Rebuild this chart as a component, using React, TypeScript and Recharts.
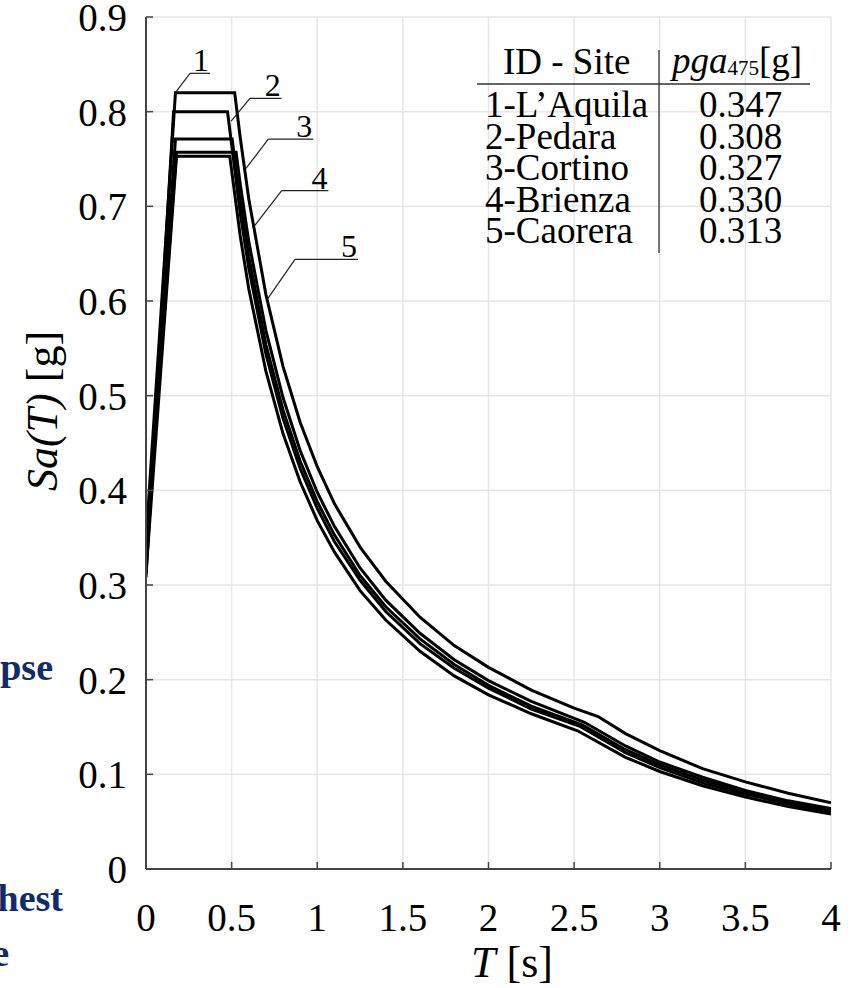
import { LineChart, Line, XAxis, YAxis, CartesianGrid, ReferenceLine } from 'recharts';

const SERIF = '"Liberation Serif", "Times New Roman", serif';
const AXIS_GREY = '#444444';

const SITE_NAMES = ['1-L\u2019Aquila', '2-Pedara', '3-Cortino', '4-Brienza', '5-Caorera'];
const PGA_475 = ['0.347', '0.308', '0.327', '0.330', '0.313'];

const X_TICKS = [0, 0.5, 1, 1.5, 2, 2.5, 3, 3.5, 4];
const Y_TICKS = [0, 0.1, 0.2, 0.3, 0.4, 0.5, 0.6, 0.7, 0.8, 0.9];

// elastic spectra, period T [s] and Sa(T) [g] per site
const T_1 = [0, 0.172, 0.518, 0.55, 0.6, 0.7, 0.8, 0.9, 1.0, 1.1, 1.25, 1.4, 1.6, 1.8, 2.0, 2.25, 2.5, 2.64, 2.8, 3.0, 3.25, 3.5, 3.75, 4.0];
const SA_1 = [0.347, 0.82, 0.82, 0.773, 0.708, 0.607, 0.531, 0.472, 0.425, 0.386, 0.34, 0.304, 0.266, 0.236, 0.213, 0.189, 0.17, 0.161, 0.143, 0.125, 0.106, 0.092, 0.08, 0.07];

const T_2 = [0, 0.161, 0.476, 0.55, 0.6, 0.7, 0.8, 0.9, 1.0, 1.1, 1.25, 1.4, 1.6, 1.8, 2.0, 2.25, 2.53, 2.8, 3.0, 3.25, 3.5, 3.75, 4.0];
const SA_2 = [0.308, 0.8, 0.8, 0.693, 0.635, 0.544, 0.476, 0.423, 0.381, 0.346, 0.305, 0.272, 0.238, 0.212, 0.191, 0.169, 0.151, 0.123, 0.107, 0.091, 0.079, 0.069, 0.06];

const T_3 = [0, 0.172, 0.503, 0.55, 0.6, 0.7, 0.8, 0.9, 1.0, 1.1, 1.25, 1.4, 1.6, 1.8, 2.0, 2.25, 2.55, 2.8, 3.0, 3.25, 3.5, 3.75, 4.0];
const SA_3 = [0.327, 0.771, 0.771, 0.705, 0.647, 0.554, 0.485, 0.431, 0.388, 0.353, 0.31, 0.277, 0.243, 0.216, 0.194, 0.172, 0.152, 0.126, 0.11, 0.094, 0.081, 0.07, 0.062];

const T_4 = [0, 0.178, 0.526, 0.55, 0.6, 0.7, 0.8, 0.9, 1.0, 1.1, 1.25, 1.4, 1.6, 1.8, 2.0, 2.25, 2.56, 2.8, 3.0, 3.25, 3.5, 3.75, 4.0];
const SA_4 = [0.33, 0.757, 0.757, 0.724, 0.663, 0.569, 0.498, 0.442, 0.398, 0.362, 0.318, 0.284, 0.249, 0.221, 0.199, 0.177, 0.155, 0.13, 0.113, 0.097, 0.083, 0.072, 0.064];

const T_5 = [0, 0.178, 0.489, 0.55, 0.6, 0.7, 0.8, 0.9, 1.0, 1.1, 1.25, 1.4, 1.6, 1.8, 2.0, 2.25, 2.52, 2.8, 3.0, 3.25, 3.5, 3.75, 4.0];
const SA_5 = [0.313, 0.753, 0.753, 0.669, 0.613, 0.526, 0.46, 0.409, 0.368, 0.335, 0.294, 0.263, 0.23, 0.204, 0.184, 0.164, 0.146, 0.118, 0.103, 0.088, 0.076, 0.066, 0.058];

// leader lines for the curve numbers: [start, knee, end] as [T, Sa]
const LEADERS: Array<{ id: string; pts: number[][] }> = [
  { id: '1', pts: [[0.175, 0.821], [0.257, 0.8405], [0.374, 0.8405]] },
  { id: '2', pts: [[0.497, 0.79], [0.607, 0.814], [0.792, 0.814]] },
  { id: '3', pts: [[0.584, 0.74], [0.714, 0.771], [0.977, 0.771]] },
  { id: '4', pts: [[0.636, 0.68], [0.792, 0.7165], [1.065, 0.7165]] },
  { id: '5', pts: [[0.705, 0.601], [0.87, 0.644], [1.238, 0.644]] },
];

const toPoints = (t: number[], sa: number[]) => t.map((T, i) => ({ T, Sa: sa[i] }));

const SPECTRA = [
  toPoints(T_1, SA_1),
  toPoints(T_2, SA_2),
  toPoints(T_3, SA_3),
  toPoints(T_4, SA_4),
  toPoints(T_5, SA_5),
];

function LeaderNum(props: any) {
  const vb = props.viewBox || {};
  return (
    <text
      x={vb.x + vb.width - 1}
      y={vb.y - 2}
      textAnchor="end"
      fontFamily={SERIF}
      fontSize={32}
      fill="#000"
    >
      {props.value}
    </text>
  );
}

function Overlay() {
  const rowBase = [117, 148.5, 180, 211.5, 243];
  return (
    <svg
      width={860}
      height={988}
      style={{ position: 'absolute', left: 0, top: 0, pointerEvents: 'none', overflow: 'hidden' }}
    >
      {/* clipped headings at the left edge */}
      <g fontFamily={SERIF} fontWeight="bold" fontSize={38} fill="#0f2b6b" textAnchor="end">
        <text x={53} y={680}>pse</text>
        <text x={63} y={911}>hest</text>
        <text x={9} y={966}>e</text>
      </g>

      <text transform="translate(57,411) rotate(-90)" textAnchor="middle" fontFamily={SERIF} fontSize={44} fill="#000">
        <tspan fontStyle="italic">Sa(T)</tspan>
        <tspan> [g]</tspan>
      </text>

      <text x={512} y={977} textAnchor="middle" fontFamily={SERIF} fontSize={44} fill="#000">
        <tspan fontStyle="italic">T</tspan>
        <tspan> [s]</tspan>
      </text>

      {/* site table */}
      <g fontFamily={SERIF} fontSize={37} fill="#000">
        <text x={503} y={74}>ID - Site</text>
        <text x={672} y={73}>
          <tspan fontStyle="italic">pga</tspan>
          <tspan fontSize={21} dy={2}>475</tspan>
          <tspan dy={-2}>[g]</tspan>
        </text>
        {SITE_NAMES.map((name, i) => (
          <text key={name} x={485} y={rowBase[i]}>{name}</text>
        ))}
        {PGA_475.map((v, i) => (
          <text key={i} x={699} y={rowBase[i]}>{v}</text>
        ))}
      </g>
      <line x1={477} y1={84} x2={810} y2={84} stroke="#333" strokeWidth={1.3} />
      <line x1={659} y1={50} x2={659} y2={253} stroke="#333" strokeWidth={1.3} />
    </svg>
  );
}

export default function App() {
  const tickStyle = { fontFamily: SERIF, fontSize: 39, fill: '#000' };
  return (
    <div style={{ position: 'absolute', left: 0, top: 0, width: 860, height: 988, background: '#fff' }}>
      <LineChart width={860} height={988} margin={{ top: 17, right: 29, bottom: 0, left: 0 }}>
        <CartesianGrid stroke="#e6e6e6" strokeWidth={1.5} />
        <XAxis
          dataKey="T"
          type="number"
          domain={[0, 4]}
          ticks={X_TICKS}
          interval={0}
          allowDataOverflow
          height={119}
          tickSize={-7}
          tickMargin={41}
          tick={tickStyle}
          tickLine={{ stroke: AXIS_GREY, strokeWidth: 1.5 }}
          axisLine={{ stroke: AXIS_GREY, strokeWidth: 2 }}
        />
        <XAxis
          xAxisId="top"
          dataKey="T"
          orientation="top"
          type="number"
          domain={[0, 4]}
          ticks={X_TICKS}
          interval={0}
          allowDataOverflow
          height={0}
          tickSize={-7}
          tick={false}
          tickLine={{ stroke: AXIS_GREY, strokeWidth: 1.5 }}
          axisLine={{ stroke: AXIS_GREY, strokeWidth: 2 }}
        />
        <YAxis
          type="number"
          domain={[0, 0.9]}
          ticks={Y_TICKS}
          interval={0}
          allowDataOverflow
          width={146}
          tickSize={-7}
          tickMargin={26}
          tick={tickStyle}
          tickLine={{ stroke: AXIS_GREY, strokeWidth: 1.5 }}
          axisLine={{ stroke: AXIS_GREY, strokeWidth: 2 }}
        />
        <YAxis
          yAxisId="right"
          orientation="right"
          type="number"
          domain={[0, 0.9]}
          ticks={Y_TICKS}
          interval={0}
          allowDataOverflow
          width={0}
          tickSize={-7}
          tick={false}
          tickLine={{ stroke: AXIS_GREY, strokeWidth: 1.5 }}
          axisLine={{ stroke: AXIS_GREY, strokeWidth: 2 }}
        />
        {SPECTRA.map((pts, i) => (
          <Line
            key={i}
            data={pts}
            dataKey="Sa"
            type="linear"
            stroke="#000"
            strokeWidth={3}
            dot={false}
            activeDot={false}
            isAnimationActive={false}
          />
        ))}
        {LEADERS.map((ld) => [
          <ReferenceLine
            key={ld.id + 'a'}
            segment={[{ x: ld.pts[0][0], y: ld.pts[0][1] }, { x: ld.pts[1][0], y: ld.pts[1][1] }]}
            stroke="#222"
            strokeWidth={1.2}
          />,
          <ReferenceLine
            key={ld.id + 'b'}
            segment={[{ x: ld.pts[1][0], y: ld.pts[1][1] }, { x: ld.pts[2][0], y: ld.pts[2][1] }]}
            stroke="#222"
            strokeWidth={1.2}
            label={<LeaderNum value={ld.id} />}
          />,
        ])}
      </LineChart>
      <Overlay />
    </div>
  );
}
